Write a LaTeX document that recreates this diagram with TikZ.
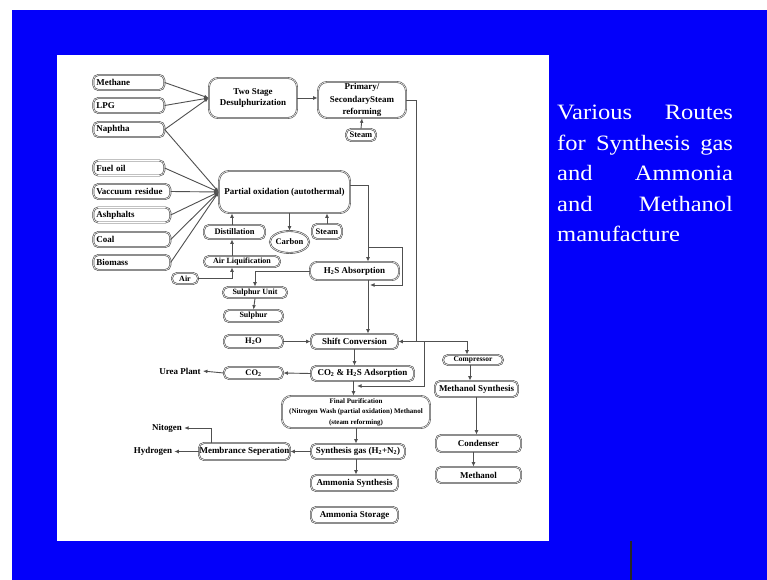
\documentclass[tikz,border=0pt]{standalone}
\usepackage{fontspec}
\setmainfont{Liberation Serif}
\usepackage{tikz}
\usetikzlibrary{calc,arrows.meta,positioning,shapes.geometric}

\definecolor{slideblue}{RGB}{3,0,250}
\definecolor{boxline}{RGB}{80,80,80}
\newcommand{\boxfs}[2]{\bfseries\fontsize{#1}{#2}\selectfont}

\begin{document}
\begin{tikzpicture}[x=1bp, y=-1bp,
    unit/.style={draw=boxline, double=white, double distance=0.55bp, line width=0.65bp,
      rounded corners=5bp, inner sep=0pt, align=center, font=\boxfs{9}{11}},
    feed/.style={unit, minimum height=15bp, text width=#1, inner xsep=3bp, align=left},
    flow/.style={draw=boxline, line width=0.9bp, -{Latex[length=4.5bp,width=3.8bp]}},
    outlet/.style={font=\boxfs{9}{11}, inner sep=2bp}
  ]
  % slide background
  \useasboundingbox (0,0) rectangle (767,580);
  \fill[white] (0,0) rectangle (767,580);
  \fill[slideblue] (12,10) rectangle (767,580);
  \fill[white] (57,55) rectangle (549,541);
  \draw[black!85, line width=1.2bp] (631,541) -- (631,580);

  % title on the right
  \node[text=white, anchor=base west, inner sep=0pt] (title) at (557,120)
    {\scalebox{1.12}[1]{\parbox[t]{157bp}{\fontsize{22}{30.5}\selectfont
      \makebox[\linewidth][s]{Various Routes}\\
      \makebox[\linewidth][s]{for Synthesis gas}\\
      \makebox[\linewidth][s]{and Ammonia}\\
      \makebox[\linewidth][s]{and Methanol}\\
      manufacture}}};

  % feedstocks
  \foreach \nm/\lbl/\y/\w in {methane/Methane/82.5/65bp, lpg/LPG/105.5/65bp,
      naphtha/Naphtha/129.5/65bp, fueloil/Fuel oil/168/65bp,
      vacres/Vaccuum residue/191.5/71bp, ashph/Ashphalts/215/71bp,
      coal/Coal/239.5/71bp, biomass/Biomass/262.5/71bp}
    \node[feed=\w, anchor=west] (\nm) at (93,\y) {\lbl};

  % steam reforming route
  \node[unit, minimum width=88bp, minimum height=40bp, rounded corners=9bp] (tsd) at (253,98) {Two Stage\\Desulphurization};
  \node[unit, minimum width=88bp, minimum height=36bp, rounded corners=9bp, font=\boxfs{9}{12.5}] (reform) at (362,100) {Primary/\\SecondarySteam\\reforming};
  \node[unit, minimum width=30bp, minimum height=12bp, font=\boxfs{8.5}{10}] (steamA) at (361,135) {Steam};

  % partial oxidation route
  \node[unit, minimum width=131bp, minimum height=42bp, rounded corners=10bp] (pox) at (284.5,192) {Partial oxidation (autothermal)};
  \node[unit, minimum width=61bp, minimum height=14bp, font=\boxfs{8.5}{10}] (distil) at (234.5,232) {Distillation};
  \node[unit, ellipse, minimum width=35bp, minimum height=22bp, font=\boxfs{8.5}{10}] (carbon) at (289.5,242) {Carbon};
  \node[unit, minimum width=30bp, minimum height=15bp, font=\boxfs{8.5}{10}] (steamB) at (327,231.5) {Steam};
  \node[unit, minimum width=76bp, minimum height=11bp, font=\boxfs{8}{10}] (airliq) at (242,261.5) {Air Liquification};
  \node[unit, minimum width=26bp, minimum height=11bp, font=\boxfs{8}{10}] (air) at (185,278.5) {Air};
  \node[unit, minimum width=89bp, minimum height=18bp, rounded corners=7bp] (h2s) at (354.5,271) {H\textsubscript{2}S Absorption};
  \node[unit, minimum width=64bp, minimum height=11bp, font=\boxfs{8}{10}] (sulunit) at (255,292.5) {Sulphur Unit};
  \node[unit, minimum width=59bp, minimum height=12bp, font=\boxfs{8}{10}] (sulphur) at (253.5,316) {Sulphur};

  % gas treatment and ammonia
  \node[unit, minimum width=59bp, minimum height=13bp, font=\boxfs{8.5}{10}] (h2o) at (253.5,341.5) {H\textsubscript{2}O};
  \node[unit, minimum width=87bp, minimum height=15bp] (shift) at (354.5,341.5) {Shift Conversion};
  \node[unit, minimum width=59bp, minimum height=12bp, font=\boxfs{8.5}{10}] (co2) at (253.5,373) {CO\textsubscript{2}};
  \node[unit, minimum width=103bp, minimum height=15bp] (co2ads) at (362.5,373.5) {CO\textsubscript{2} \& H\textsubscript{2}S Adsorption};
  \node[unit, minimum width=148bp, minimum height=32bp, rounded corners=9bp, font=\boxfs{7}{10.5}] (finpur) at (356,412) {Final Purification\\(Nitrogen Wash (partial oxidation) Methanol\\(steam reforming)};
  \node[unit, minimum width=94bp, minimum height=15bp] (syngas) at (358,451.5) {Synthesis gas (H\textsubscript{2}+N\textsubscript{2})};
  \node[unit, minimum width=91bp, minimum height=17bp] (memb) at (244.5,451.5) {Membrance Seperation};
  \node[unit, minimum width=87bp, minimum height=16bp] (amsyn) at (354.5,483) {Ammonia Synthesis};
  \node[unit, minimum width=87bp, minimum height=16bp] (amsto) at (354.5,515) {Ammonia Storage};

  % methanol line
  \node[unit, minimum width=60bp, minimum height=10bp, font=\boxfs{7.5}{9}] (comp) at (473,360) {Compressor};
  \node[unit, minimum width=83bp, minimum height=16bp] (mesyn) at (476.5,389) {Methanol Synthesis};
  \node[unit, minimum width=85bp, minimum height=17bp] (cond) at (478.5,443.5) {Condenser};
  \node[unit, minimum width=85bp, minimum height=16bp] (methanol) at (478.5,475) {Methanol};

  % products leaving the plant
  \node[outlet] (urea) at (180,371) {Urea Plant};
  \node[outlet] (nitogen) at (167,428) {Nitogen};
  \node[outlet] (hydrogen) at (153,451.5) {Hydrogen};

  % helper points for the trunk lines
  \coordinate (trunk) at (368,0);
  \coordinate (airx) at (232,0);
  \coordinate (nx) at (211,0);
  \coordinate (lpA) at (368,247);
  \coordinate (lpB) at (402,285);
  \coordinate (j1) at (416,341.5);
  \coordinate (j2) at (424,341.5);
  \coordinate (bp) at (357,386);

  % feeds into the two heads
  \foreach \nm in {methane,lpg,naphtha}
    \draw[flow] (\nm.east) -- (tsd.west);
  \foreach \nm in {naphtha,fueloil,vacres,ashph,coal,biomass}
    \draw[flow] (\nm.east) -- (pox.west);

  \draw[flow] (tsd.east) -- (tsd.east -| reform.west);
  \draw[flow] (steamA.north) -- (reform.south);
  \draw[flow] (reform.east) -| (j1) -- (shift.east);
  \draw[flow] (j1) -| ([xshift=-6bp]comp.north);
  \draw[flow] (j2) |- (bp);

  % partial oxidation side
  \draw[flow] ($(pox.east)+(0,-7)$) -| (h2s.north -| trunk);
  \draw[flow] (lpA) -| (lpB) -- ($(lpB -| trunk)+(2,0)$);
  \draw[flow] (h2s.south -| trunk) -- (shift.north -| trunk);
  \draw[flow] (h2s.west) -| (sulunit.north);
  \draw[flow] (sulunit.south) -- (sulphur.north);
  \draw[flow] (air.east) -| (airliq.south -| airx);
  \draw[flow] (airliq.north -| airx) -- (distil.south -| airx);
  \draw[flow] (distil.north -| airx) -- (pox.south -| airx);
  \draw[flow] (pox.south -| carbon.north) -- (carbon.north);
  \draw[flow] (steamB.north) -- (steamB.north |- pox.south);

  % down the main train
  \draw[flow] (h2o.east) -- (shift.west);
  \draw[flow] (shift.south) -- (shift.south |- co2ads.north);
  \draw[flow] (co2ads.west) -- (co2.east);
  \draw[flow] (co2.west) -- (urea.east);
  \draw[flow] ([xshift=-9bp]co2ads.south) -- ([xshift=-9bp]co2ads.south |- finpur.north);
  \draw[flow] (finpur.south) -- (finpur.south |- syngas.north);
  \draw[flow] (syngas.west) -- (memb.east);
  \draw[flow] (finpur.south |- syngas.south) -- (finpur.south |- amsyn.north);
  \draw[flow] (memb.west) -- (hydrogen.east);
  \draw[flow] (memb.north -| nx) |- (nitogen.east);

  % methanol side
  \draw[flow] ([xshift=-3bp]comp.south) -- ([xshift=-3bp]comp.south |- mesyn.north);
  \draw[flow] (mesyn.south) -- (mesyn.south |- cond.north);
  \draw[flow] ([xshift=-5bp]cond.south) -- ([xshift=-5bp]cond.south |- methanol.north);
\end{tikzpicture}
\end{document}
